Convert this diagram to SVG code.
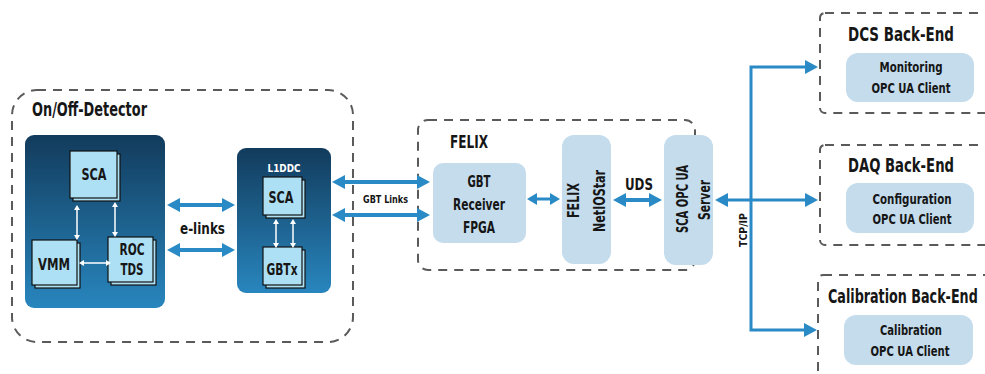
<svg xmlns="http://www.w3.org/2000/svg" width="985" height="374" viewBox="0 0 985 374">
<style>
text{font-family:"DejaVu Sans Condensed","DejaVu Sans","Liberation Sans",sans-serif;font-weight:bold;fill:#161616}
.dash{fill:none;stroke:#5a5a5a;stroke-width:2;stroke-dasharray:9 7}
.box{fill:#c4dcec}
.chip{fill:#aee0f5;stroke:#111;stroke-width:1.2}
.blue{fill:none;stroke:#2a8ac5;stroke-width:4}
.blue3{fill:none;stroke:#2a8ac5;stroke-width:3}
.white{fill:none;stroke:#fff;stroke-width:1.5}
.wtxt{fill:#fff}
</style>
<defs>
<linearGradient id="dk" x1="0" y1="0" x2="0" y2="1">
<stop offset="0" stop-color="#123b5c"/>
<stop offset="1" stop-color="#2886be"/>
</linearGradient>
<marker id="ab" viewBox="0 0 13 14" markerWidth="13" markerHeight="14" markerUnits="userSpaceOnUse" refX="2" refY="7" orient="auto-start-reverse">
<path d="M0,0 L13,7 L0,14 z" fill="#2a8ac5"/>
</marker>
<marker id="as" viewBox="0 0 10 12" markerWidth="10" markerHeight="12" markerUnits="userSpaceOnUse" refX="2" refY="6" orient="auto-start-reverse">
<path d="M0,0 L10,6 L0,12 z" fill="#2a8ac5"/>
</marker>
<marker id="aw" viewBox="0 0 5 6" markerWidth="5" markerHeight="6" markerUnits="userSpaceOnUse" refX="1" refY="3" orient="auto-start-reverse">
<path d="M0,0 L5,3 L0,6 z" fill="#fff"/>
</marker>
</defs>

<g id="onoff-detector">
<rect class="dash" x="12" y="90" width="341" height="252" rx="25"/>
<text x="32" y="116" font-size="19" textLength="115" lengthAdjust="spacingAndGlyphs">On/Off-Detector</text>
</g>

<g id="detector">
<rect x="25" y="135" width="140" height="173" rx="9" fill="url(#dk)"/>
</g>
<g id="sca-det">
<rect class="chip" x="73" y="154" width="47" height="47"/>
<rect class="chip" x="70" y="151" width="47" height="47"/>
<text x="94" y="180" font-size="16" text-anchor="middle" textLength="25" lengthAdjust="spacingAndGlyphs">SCA</text>
</g>
<g id="vmm">
<rect class="chip" x="35" y="243" width="45" height="45"/>
<rect class="chip" x="32" y="240" width="45" height="45"/>
<text x="54" y="270" font-size="16" text-anchor="middle" textLength="32" lengthAdjust="spacingAndGlyphs">VMM</text>
</g>
<g id="roc-tds">
<rect class="chip" x="111" y="240" width="45" height="45"/>
<rect class="chip" x="108" y="237" width="45" height="45"/>
<text x="132" y="255" font-size="16" text-anchor="middle" textLength="25" lengthAdjust="spacingAndGlyphs">ROC</text>
<text x="132" y="275" font-size="16" text-anchor="middle" textLength="23" lengthAdjust="spacingAndGlyphs">TDS</text>
</g>

<g id="l1ddc">
<rect x="237" y="148" width="94" height="145" rx="9" fill="url(#dk)"/>
<text class="wtxt" x="284" y="172" font-size="11" text-anchor="middle" textLength="33" lengthAdjust="spacingAndGlyphs">L1DDC</text>
</g>
<g id="sca-l1ddc">
<rect class="chip" x="266" y="180" width="39" height="38"/>
<rect class="chip" x="263" y="177" width="39" height="38"/>
<text x="281" y="203" font-size="16" text-anchor="middle" textLength="25" lengthAdjust="spacingAndGlyphs">SCA</text>
</g>
<g id="gbtx">
<rect class="chip" x="266" y="250" width="39" height="38"/>
<rect class="chip" x="263" y="247" width="39" height="38"/>
<text x="282" y="275" font-size="16" text-anchor="middle" textLength="31" lengthAdjust="spacingAndGlyphs">GBTx</text>
</g>

<g id="felix">
<rect class="dash" x="418" y="120" width="277" height="150" rx="10"/>
<text x="450" y="148" font-size="18" textLength="38" lengthAdjust="spacingAndGlyphs">FELIX</text>
</g>
<g id="gbt-receiver">
<rect class="box" x="433" y="163" width="93" height="80" rx="10"/>
<text x="479" y="187" font-size="16" text-anchor="middle" textLength="23" lengthAdjust="spacingAndGlyphs">GBT</text>
<text x="479" y="210" font-size="16" text-anchor="middle" textLength="52" lengthAdjust="spacingAndGlyphs">Receiver</text>
<text x="479" y="233" font-size="16" text-anchor="middle" textLength="32" lengthAdjust="spacingAndGlyphs">FPGA</text>
</g>
<g id="felix-netiostar">
<rect class="box" x="562" y="135" width="49" height="129" rx="12"/>
<text transform="translate(579,200.5) rotate(-90)" font-size="16" text-anchor="middle" textLength="35" lengthAdjust="spacingAndGlyphs">FELIX</text>
<text transform="translate(605,201) rotate(-90)" font-size="16" text-anchor="middle" textLength="62" lengthAdjust="spacingAndGlyphs">NetIOStar</text>
</g>
<g id="sca-opc-ua-server">
<rect class="box" x="664" y="135" width="49" height="130" rx="12"/>
<text transform="translate(688,199) rotate(-90)" font-size="16" text-anchor="middle" textLength="68" lengthAdjust="spacingAndGlyphs">SCA OPC UA</text>
<text transform="translate(710,200) rotate(-90)" font-size="16" text-anchor="middle" textLength="40" lengthAdjust="spacingAndGlyphs">Server</text>
</g>

<g id="dcs-backend">
<rect class="dash" x="820" y="13" width="190" height="100" rx="5"/>
<text x="848" y="41" font-size="19" textLength="106" lengthAdjust="spacingAndGlyphs">DCS Back-End</text>
<rect class="box" x="846" y="53" width="128" height="49" rx="12"/>
<text x="911" y="72" font-size="14" text-anchor="middle" textLength="63" lengthAdjust="spacingAndGlyphs">Monitoring</text>
<text x="911" y="93" font-size="14" text-anchor="middle" textLength="79" lengthAdjust="spacingAndGlyphs">OPC UA Client</text>
</g>
<g id="daq-backend">
<rect class="dash" x="820" y="145" width="190" height="100" rx="5"/>
<text x="848" y="172" font-size="19" textLength="106" lengthAdjust="spacingAndGlyphs">DAQ Back-End</text>
<rect class="box" x="846" y="183" width="128" height="50" rx="12"/>
<text x="912" y="204" font-size="14" text-anchor="middle" textLength="79" lengthAdjust="spacingAndGlyphs">Configuration</text>
<text x="912" y="224" font-size="14" text-anchor="middle" textLength="79" lengthAdjust="spacingAndGlyphs">OPC UA Client</text>
</g>
<g id="calibration-backend">
<rect class="dash" x="818" y="275" width="190" height="120" rx="5"/>
<text transform="translate(828,303) scale(0.72,1)" x="0" y="0" font-size="19" textLength="208" lengthAdjust="spacingAndGlyphs">Calibration Back-End</text>
<rect class="box" x="844" y="315" width="129" height="50" rx="12"/>
<text x="911" y="335" font-size="14" text-anchor="middle" textLength="62" lengthAdjust="spacingAndGlyphs">Calibration</text>
<text x="910" y="356" font-size="14" text-anchor="middle" textLength="79" lengthAdjust="spacingAndGlyphs">OPC UA Client</text>
</g>

<g id="connectors">
<line class="white" x1="77" y1="209" x2="77" y2="236" marker-start="url(#aw)" marker-end="url(#aw)"/>
<line class="white" x1="115" y1="206" x2="115" y2="233" marker-start="url(#aw)" marker-end="url(#aw)"/>
<line class="white" x1="83" y1="263" x2="107" y2="263" marker-start="url(#aw)" marker-end="url(#aw)"/>
<line class="white" x1="276" y1="223" x2="276" y2="244" marker-start="url(#aw)" marker-end="url(#aw)"/>
<line class="white" x1="293" y1="223" x2="293" y2="244" marker-start="url(#aw)" marker-end="url(#aw)"/>

<line class="blue" x1="178" y1="205" x2="224" y2="205" marker-start="url(#ab)" marker-end="url(#ab)"/>
<line class="blue" x1="178" y1="250" x2="224" y2="250" marker-start="url(#ab)" marker-end="url(#ab)"/>
<text x="202.5" y="234" font-size="15" text-anchor="middle" textLength="45" lengthAdjust="spacingAndGlyphs">e-links</text>

<line class="blue" x1="343" y1="182" x2="419" y2="182" marker-start="url(#ab)" marker-end="url(#ab)"/>
<line class="blue" x1="343" y1="215" x2="419" y2="215" marker-start="url(#ab)" marker-end="url(#ab)"/>
<text x="385.5" y="203" font-size="11" text-anchor="middle" textLength="45" lengthAdjust="spacingAndGlyphs">GBT Links</text>

<line class="blue3" x1="535" y1="199" x2="552" y2="199" marker-start="url(#as)" marker-end="url(#as)"/>
<line class="blue" x1="624" y1="200" x2="651" y2="200" marker-start="url(#ab)" marker-end="url(#ab)"/>
<text x="639" y="190" font-size="16" text-anchor="middle" textLength="28" lengthAdjust="spacingAndGlyphs">UDS</text>

<path class="blue3" d="M807,67 H751 V330 H806" marker-start="url(#ab)" marker-end="url(#ab)"/>
<line class="blue3" x1="726" y1="200" x2="807" y2="200" marker-start="url(#ab)" marker-end="url(#ab)"/>
<text transform="translate(747,230) rotate(-90)" font-size="11" text-anchor="middle" textLength="34" lengthAdjust="spacingAndGlyphs">TCP/IP</text>
</g>
</svg>
